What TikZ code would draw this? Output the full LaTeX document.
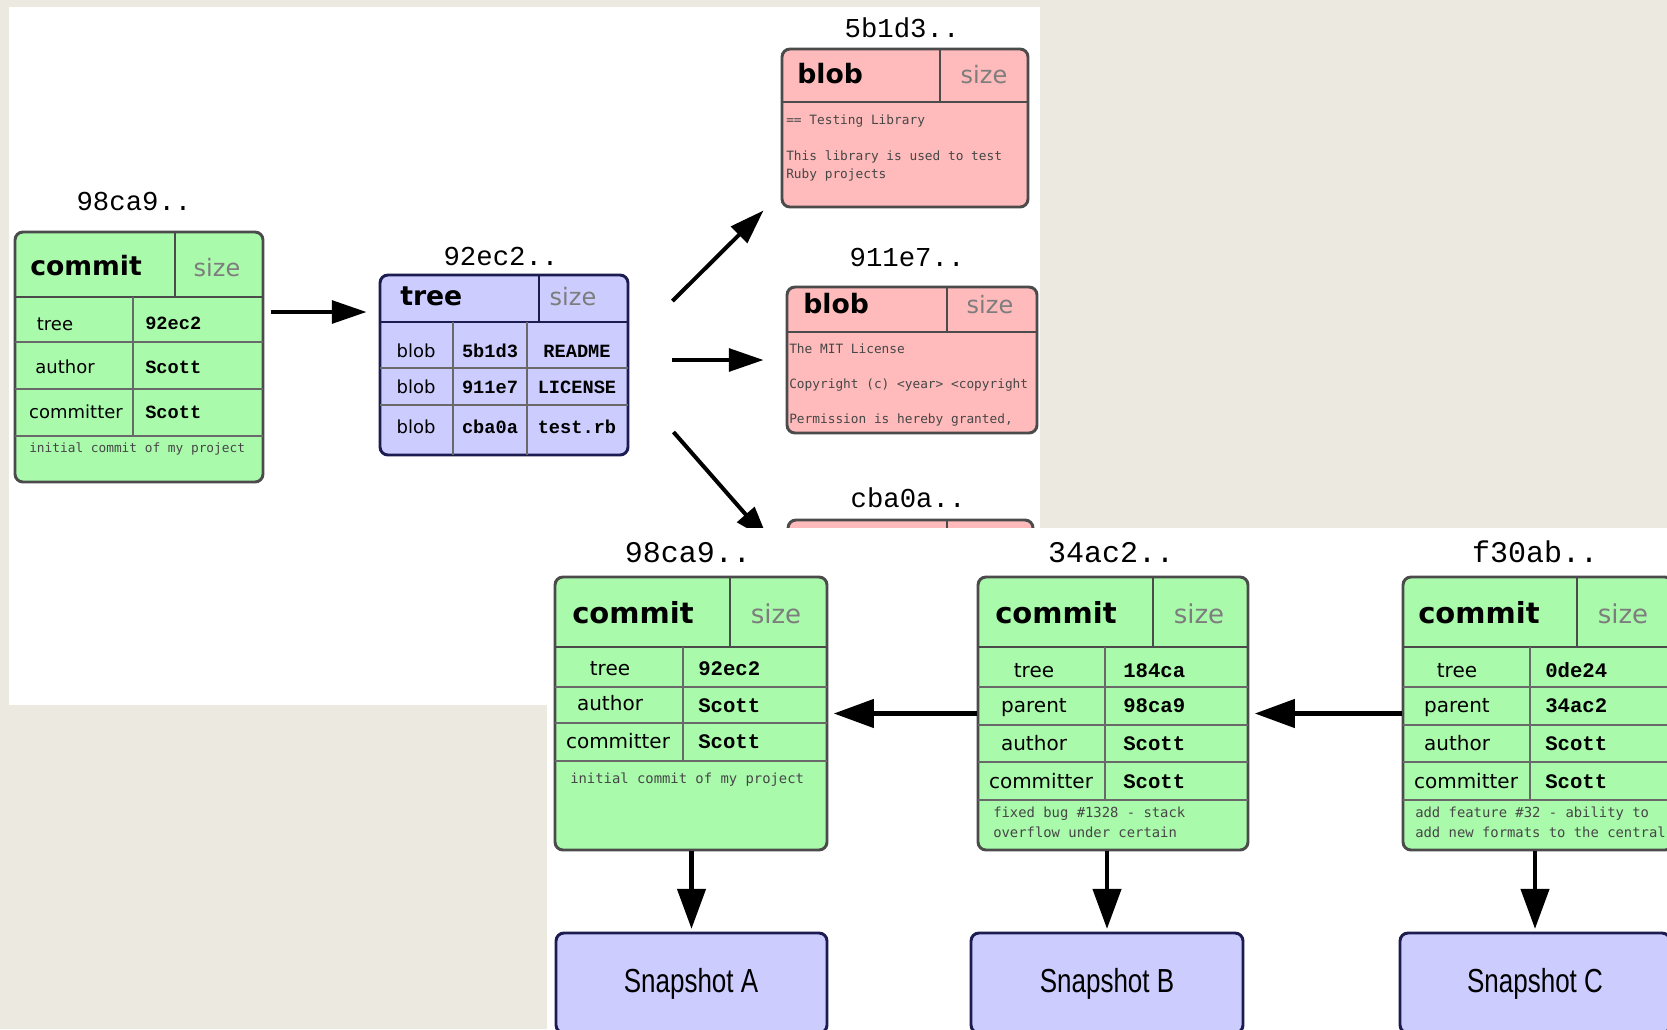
\documentclass[tikz,border=0pt]{standalone}
\usepackage{fontspec}
\setmainfont{DejaVu Sans}
\newfontfamily\idfont{Liberation Mono}
\newfontfamily\msgfont{DejaVu Sans Mono}
\newfontfamily\snapfont[FakeStretch=0.78]{Liberation Sans}
\usetikzlibrary{arrows.meta,fit}

\definecolor{bgpage}{RGB}{236,234,224}
\definecolor{cfill}{RGB}{170,250,172}
\definecolor{tfill}{RGB}{204,204,255}
\definecolor{bfill}{RGB}{255,187,187}
\definecolor{cline}{RGB}{75,75,75}
\definecolor{tline}{RGB}{28,28,80}
\definecolor{gridgray}{RGB}{105,105,105}
\definecolor{sizegray}{RGB}{125,125,125}
\definecolor{msggray}{RGB}{70,70,70}

\tikzstyle{commitrec} = [draw=cline, fill=cfill, line width=2.2pt, rounded corners=6pt, inner sep=0pt]
\tikzstyle{treerec} = [draw=tline, fill=tfill, line width=2.2pt, rounded corners=6pt, inner sep=0pt]
\tikzstyle{blobrec} = [draw=cline, fill=bfill, line width=2.2pt, rounded corners=6pt, inner sep=0pt]
\tikzstyle{snaprec} = [draw=tline, fill=tfill, line width=2.2pt, rounded corners=6pt, inner sep=0pt]
\tikzstyle{snaptext} = [font=\snapfont\fontsize{25}{25}\selectfont, inner sep=0pt]
\tikzstyle{headline} = [line width=2.2pt]
\tikzstyle{gridline} = [draw=gridgray, line width=1.5pt]
\tikzstyle{idlabel} = [font=\idfont\fontsize{20.5}{20.5}\selectfont, anchor=base, inner sep=0pt]
\tikzstyle{typelabel} = [font=\bfseries\fontsize{20}{20}\selectfont, anchor=base west, inner sep=0pt]
\tikzstyle{sizelabel} = [font=\fontsize{18}{18}\selectfont, text=sizegray, anchor=base, inner sep=0pt]
\tikzstyle{fieldname} = [font=\fontsize{13.5}{13.5}\selectfont, anchor=base, inner sep=0pt]
\tikzstyle{fieldval} = [font=\idfont\bfseries\fontsize{14}{14}\selectfont, anchor=base west, inner sep=0pt]
\tikzstyle{entryval} = [font=\idfont\bfseries\fontsize{14}{14}\selectfont, anchor=base, inner sep=0pt]
\tikzstyle{msgtext} = [font=\msgfont\fontsize{9.6}{9.6}\selectfont, text=msggray, anchor=base west, inner sep=0pt]
\tikzstyle{arr} = [->, line width=3pt]

\begin{document}
\begin{tikzpicture}[x=0.75pt, y=-0.75pt, >={Triangle[length=26pt,width=17pt]}]
   \useasboundingbox (0,0) rectangle (1667,1029);
   \clip (0,0) rectangle (1667,1029);
   \fill[bgpage] (0,0) rectangle (1667,1029);

   % first figure: one commit and its tree
   \fill[white] (9,7) rectangle (1040,705);

   % commit
   \node[commitrec, fit={(15,232) (263,482)}] (c0) {};
   \draw[headline, cline] (15,297) -- (263,297) (175,232) -- (175,297);
   \draw[gridline] (15,342) -- (263,342) (15,389) -- (263,389) (15,436) -- (263,436) (133,297) -- (133,436);
   \node[idlabel] (c0id) at (134,210) {98ca9..};
   \node[typelabel] (c0h) at (30,275) {commit};
   \node[sizelabel] (c0s) at (217,276) {size};
   \node[fieldname] (c0k1) at (55,330) {tree};
   \node[fieldname] (c0k2) at (65,373) {author};
   \node[fieldname] (c0k3) at (76,418) {committer};
   \node[fieldval] (c0v1) at (145,329) {92ec2};
   \node[fieldval] (c0v2) at (145,373) {Scott};
   \node[fieldval] (c0v3) at (145,418) {Scott};
   \node[msgtext] (c0m) at (29,452) {initial commit of my project};

   % tree
   \node[treerec, fit={(380,275) (628,455)}] (tr) {};
   \draw[headline, tline] (380,322) -- (628,322) (539,275) -- (539,322);
   \draw[gridline] (380,368) -- (628,368) (380,405) -- (628,405) (453,322) -- (453,455) (527,322) -- (527,455);
   \node[idlabel] (trid) at (501,265) {92ec2..};
   \node[typelabel] (trh) at (400,305) {tree};
   \node[sizelabel] (trs) at (573,305) {size};
   \foreach \y/\h/\f [count=\i] in {357/5b1d3/README, 393/911e7/LICENSE, 433/cba0a/test.rb} {
      \node[fieldname] (trk\i) at (416,\y) {blob};
      \node[entryval] (trx\i) at (490,\y) {\h};
      \node[entryval] (trf\i) at (577,\y) {\f};
   }

   % blobs
   \node[blobrec, fit={(782,49) (1028,207)}] (b1) {};
   \draw[headline, cline] (782,102) -- (1028,102) (940,49) -- (940,102);
   \node[idlabel] (b1id) at (902,37) {5b1d3..};
   \node[typelabel] (b1h) at (797,83) {blob};
   \node[sizelabel] (b1s) at (984,83) {size};
   \node[msgtext] (b1t1) at (786,124) {== Testing Library};
   \node[msgtext] (b1t2) at (786,160) {This library is used to test};
   \node[msgtext] (b1t3) at (786,178) {Ruby projects};

   \node[blobrec, fit={(787,287) (1037,433)}] (b2) {};
   \draw[headline, cline] (787,332) -- (1037,332) (947,287) -- (947,332);
   \node[idlabel] (b2id) at (907,266) {911e7..};
   \node[typelabel] (b2h) at (803,313) {blob};
   \node[sizelabel] (b2s) at (990,313) {size};
   \begin{scope}
      \clip (787,332) rectangle (1035,433);
      \node[msgtext] (b2t1) at (789,353) {The MIT License};
      \node[msgtext] (b2t2) at (789,388) {Copyright (c) <year> <copyright};
      \node[msgtext] (b2t3) at (789,423) {Permission is hereby granted,};
   \end{scope}

   \node[blobrec, fit={(788,520) (1033,670)}] (b3) {};
   \draw[headline, cline] (788,566) -- (1033,566) (947,520) -- (947,566);
   \node[idlabel] (b3id) at (908,507) {cba0a..};

   % edges
   \draw[arr] ([shift={(7,-45)}]c0.east) -- ([shift={(-12,-53)}]tr.west);
   \draw[arr] ([shift={(43,-64)}]tr.east) -- ([shift={(-17,2)}]b1.south west);
   \draw[arr] ([shift={(43,-5)}]tr.east) -- ([shift={(-22,0)}]b2.west);
   \draw[arr] ([shift={(44,67)}]tr.east) -- ([shift={(-18,22)}]b3.north west);

   % second figure: three commits and their snapshots
   \fill[white] (547,528) rectangle (1667,1029);
   \begin{scope}[>={Triangle[length=30pt,width=21pt]}, arr/.append style={line width=3.3pt},
      idlabel/.append style={font=\idfont\fontsize{22.5}{22.5}\selectfont},
      typelabel/.append style={font=\bfseries\fontsize{21.75}{21.75}\selectfont},
      sizelabel/.append style={font=\fontsize{19.5}{19.5}\selectfont},
      fieldname/.append style={font=\fontsize{15}{15}\selectfont},
      fieldval/.append style={font=\idfont\bfseries\fontsize{15.5}{15.5}\selectfont},
      msgtext/.append style={font=\msgfont\fontsize{10.4}{10.4}\selectfont}]

   % commit A
   \node[commitrec, fit={(555,577) (827,850)}] (ca) {};
   \draw[headline, cline] (555,647) -- (827,647) (730,577) -- (730,647);
   \draw[gridline] (555,687) -- (827,687) (555,723) -- (827,723) (555,761) -- (827,761) (683,647) -- (683,761);
   \node[idlabel] (caid) at (688,562) {98ca9..};
   \node[typelabel] (cah) at (572,623) {commit};
   \node[sizelabel] (cas) at (776,623) {size};
   \node[fieldname] (cak1) at (610,675) {tree};
   \node[fieldname] (cak2) at (610,710) {author};
   \node[fieldname] (cak3) at (618,748) {committer};
   \node[fieldval] (cav1) at (698,675) {92ec2};
   \node[fieldval] (cav2) at (698,712) {Scott};
   \node[fieldval] (cav3) at (698,748) {Scott};
   \node[msgtext] (cam) at (570,783) {initial commit of my project};

   % commit B
   \node[commitrec, fit={(978,577) (1248,850)}] (cb) {};
   \draw[headline, cline] (978,647) -- (1248,647) (1153,577) -- (1153,647);
   \draw[gridline] (978,687) -- (1248,687) (978,725) -- (1248,725) (978,762) -- (1248,762) (978,800) -- (1248,800) (1105,647) -- (1105,800);
   \node[idlabel] (cbid) at (1111,562) {34ac2..};
   \node[typelabel] (cbh) at (995,623) {commit};
   \node[sizelabel] (cbs) at (1199,623) {size};
   \node[fieldname] (cbk1) at (1034,677) {tree};
   \node[fieldname] (cbk2) at (1034,712) {parent};
   \node[fieldname] (cbk3) at (1034,750) {author};
   \node[fieldname] (cbk4) at (1041,788) {committer};
   \node[fieldval] (cbv1) at (1123,677) {184ca};
   \node[fieldval] (cbv2) at (1123,712) {98ca9};
   \node[fieldval] (cbv3) at (1123,750) {Scott};
   \node[fieldval] (cbv4) at (1123,788) {Scott};
   \node[msgtext] (cbm1) at (993,817) {fixed bug \#1328 - stack};
   \node[msgtext] (cbm2) at (993,837) {overflow under certain};

   % commit C
   \node[commitrec, fit={(1403,577) (1673,850)}] (cc) {};
   \draw[headline, cline] (1403,647) -- (1673,647) (1577,577) -- (1577,647);
   \draw[gridline] (1403,687) -- (1673,687) (1403,725) -- (1673,725) (1403,762) -- (1673,762) (1403,800) -- (1673,800) (1530,647) -- (1530,800);
   \node[idlabel] (ccid) at (1535,562) {f30ab..};
   \node[typelabel] (cch) at (1418,623) {commit};
   \node[sizelabel] (ccs) at (1623,623) {size};
   \node[fieldname] (cck1) at (1457,677) {tree};
   \node[fieldname] (cck2) at (1457,712) {parent};
   \node[fieldname] (cck3) at (1457,750) {author};
   \node[fieldname] (cck4) at (1466,788) {committer};
   \node[fieldval] (ccv1) at (1545,677) {0de24};
   \node[fieldval] (ccv2) at (1545,712) {34ac2};
   \node[fieldval] (ccv3) at (1545,750) {Scott};
   \node[fieldval] (ccv4) at (1545,788) {Scott};
   \node[msgtext] (ccm1) at (1415,817) {add feature \#32 - ability to};
   \node[msgtext] (ccm2) at (1415,837) {add new formats to the central};

   % snapshots
   \node[snaprec, fit={(556,933) (827,1033)}] (sa) {};
   \node[snaprec, fit={(971,933) (1243,1033)}] (sb) {};
   \node[snaprec, fit={(1400,933) (1670,1033)}] (sc) {};
   \node[snaptext] (sat) at (691,984) {Snapshot A};
   \node[snaptext] (sbt) at (1107,984) {Snapshot B};
   \node[snaptext] (sct) at (1535,984) {Snapshot C};

   % edges
   \draw[arr, shorten >=4pt] (cb.west) -- (ca.east);
   \draw[arr, shorten >=4pt] (cc.west) -- (cb.east);
   \draw[arr, shorten >=2pt] (ca.south -| sa.north) -- (sa.north);
   \draw[arr, shorten >=2pt] (cb.south -| sb.north) -- (sb.north);
   \draw[arr, shorten >=2pt] (cc.south -| sc.north) -- (sc.north);
   \end{scope}
\end{tikzpicture}
\end{document}
